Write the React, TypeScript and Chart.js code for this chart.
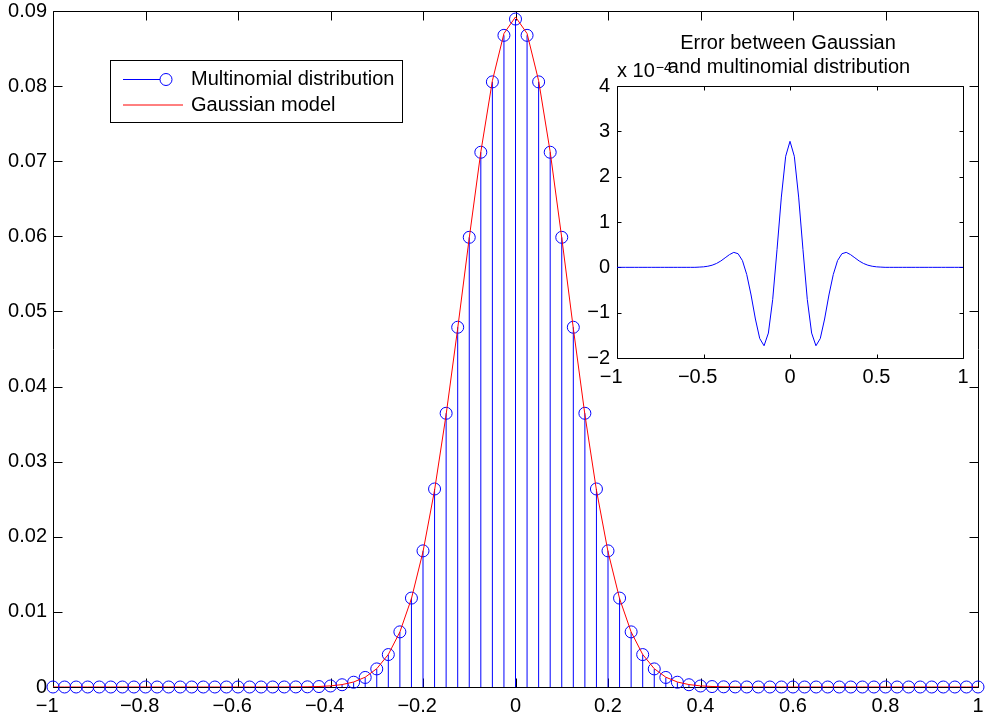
import React, { useEffect, useRef } from 'react';
import { Chart, registerables } from 'chart.js';

Chart.register(...registerables);

const FONT_FAMILY = "'Liberation Sans', Arial, Helvetica, sans-serif";

// x positions of the 81 outcomes
const X_VALUES = [
  -1, -0.975, -0.95, -0.925, -0.9, -0.875, -0.85, -0.825, -0.8, -0.775,
  -0.75, -0.725, -0.7, -0.675, -0.65, -0.625, -0.6, -0.575, -0.55, -0.525,
  -0.5, -0.475, -0.45, -0.425, -0.4, -0.375, -0.35, -0.325, -0.3, -0.275,
  -0.25, -0.225, -0.2, -0.175, -0.15, -0.125, -0.1, -0.075, -0.05, -0.025,
  0,
  0.025, 0.05, 0.075, 0.1, 0.125, 0.15, 0.175, 0.2, 0.225, 0.25,
  0.275, 0.3, 0.325, 0.35, 0.375, 0.4, 0.425, 0.45, 0.475, 0.5,
  0.525, 0.55, 0.575, 0.6, 0.625, 0.65, 0.675, 0.7, 0.725, 0.75,
  0.775, 0.8, 0.825, 0.85, 0.875, 0.9, 0.925, 0.95, 0.975, 1,
];

const MULTINOMIAL = [
  0, 0, 0, 0, 0, 0, 0, 0, 0, 0,
  0, 0, 0, 0, 0, 0, 0, 0, 0,
  0.000001, 0.0000029, 0.0000084, 0.0000224, 0.0000565, 0.0001342, 0.0003006,
  0.0006359, 0.0012718, 0.0024073, 0.0043166, 0.0073383, 0.011836, 0.018124,
  0.026362, 0.036441, 0.047894, 0.059868, 0.071194, 0.080562, 0.086759,
  0.088928,
  0.086759, 0.080562, 0.071194, 0.059868, 0.047894, 0.036441, 0.026362,
  0.018124, 0.011836, 0.0073383, 0.0043166, 0.0024073, 0.0012718, 0.0006359,
  0.0003006, 0.0001342, 0.0000565, 0.0000224, 0.0000084, 0.0000029, 0.000001,
  0, 0, 0, 0, 0, 0, 0, 0, 0,
  0, 0, 0, 0, 0, 0, 0, 0, 0, 0,
];

const GAUSSIAN = [
  0, 0, 0, 0, 0, 0, 0, 0, 0, 0,
  0, 0, 0, 0, 0, 0, 0, 0, 0,
  0.0000015, 0.0000041, 0.0000107, 0.0000271, 0.000065, 0.0001482, 0.0003217,
  0.0006643, 0.0013046, 0.0024374, 0.0043313, 0.0073225, 0.011775, 0.01801,
  0.026205, 0.036268, 0.047749, 0.059797, 0.071233, 0.080717, 0.087004,
  0.089206,
  0.087004, 0.080717, 0.071233, 0.059797, 0.047749, 0.036268, 0.026205,
  0.01801, 0.011775, 0.0073225, 0.0043313, 0.0024374, 0.0013046, 0.0006643,
  0.0003217, 0.0001482, 0.000065, 0.0000271, 0.0000107, 0.0000041, 0.0000015,
  0, 0, 0, 0, 0, 0, 0, 0, 0,
  0, 0, 0, 0, 0, 0, 0, 0, 0, 0,
];

// Gaussian minus multinomial, in units of 1e-4
const ERROR_E4 = [
  0, 0, 0, 0, 0, 0, 0, 0, 0, 0,
  0, 0, 0, 0, 0, 0, 0, 0, 0,
  0.005, 0.011, 0.024, 0.047, 0.085, 0.14, 0.21, 0.28, 0.33, 0.3, 0.15,
  -0.16, -0.61, -1.14, -1.57, -1.73, -1.45, -0.71, 0.39, 1.55, 2.45,
  2.78,
  2.45, 1.55, 0.39, -0.71, -1.45, -1.73, -1.57, -1.14, -0.61, -0.16,
  0.15, 0.3, 0.33, 0.28, 0.21, 0.14, 0.085, 0.047, 0.024, 0.011, 0.005,
  0, 0, 0, 0, 0, 0, 0, 0, 0,
  0, 0, 0, 0, 0, 0, 0, 0, 0, 0,
];

const MAIN_X_TICKS = [-1, -0.8, -0.6, -0.4, -0.2, 0, 0.2, 0.4, 0.6, 0.8, 1];
const MAIN_X_LABELS = ['\u22121', '\u22120.8', '\u22120.6', '\u22120.4', '\u22120.2', '0', '0.2', '0.4', '0.6', '0.8', '1'];
const MAIN_Y_TICKS = [0, 0.01, 0.02, 0.03, 0.04, 0.05, 0.06, 0.07, 0.08, 0.09];
const MAIN_Y_LABELS = ['0', '0.01', '0.02', '0.03', '0.04', '0.05', '0.06', '0.07', '0.08', '0.09'];
const INSET_X_TICKS = [-1, -0.5, 0, 0.5, 1];
const INSET_X_LABELS = ['\u22121', '\u22120.5', '0', '0.5', '1'];
const INSET_Y_TICKS = [-2, -1, 0, 1, 2, 3, 4];
const INSET_Y_LABELS = ['\u22122', '\u22121', '0', '1', '2', '3', '4'];

const LEGEND_LABELS = ['Multinomial distribution', 'Gaussian model'];
const INSET_TITLE = ['Error between Gaussian', 'and multinomial distribution'];
const INSET_EXPONENT = ['x 10', '\u22124'];

const BLUE = '#0000ff';
const RED = '#ff0000';

function zeroPad(s: any, w?: number, h?: number) {
  if (w !== undefined) s.width = w;
  if (h !== undefined) s.height = h;
  s.paddingLeft = 0;
  s.paddingRight = 0;
  s.paddingTop = 0;
  s.paddingBottom = 0;
}

function drawFrame(chart: any, xTicks: number[], yTicks: number[], tickLen: number) {
  const { ctx, chartArea } = chart;
  const xs = chart.scales.x;
  const ys = chart.scales.y;
  const L = Math.round(chartArea.left) + 0.5;
  const R = Math.round(chartArea.right) + 0.5;
  const T = Math.round(chartArea.top) + 0.5;
  const B = Math.round(chartArea.bottom) + 0.5;
  ctx.save();
  ctx.strokeStyle = '#000';
  ctx.lineWidth = 1;
  ctx.beginPath();
  ctx.rect(L, T, R - L, B - T);
  xTicks.forEach((v) => {
    const px = Math.round(xs.getPixelForValue(v)) + 0.5;
    ctx.moveTo(px, B);
    ctx.lineTo(px, B - tickLen);
    ctx.moveTo(px, T);
    ctx.lineTo(px, T + tickLen);
  });
  yTicks.forEach((v) => {
    const py = Math.round(ys.getPixelForValue(v)) + 0.5;
    ctx.moveTo(L, py);
    ctx.lineTo(L + tickLen, py);
    ctx.moveTo(R, py);
    ctx.lineTo(R - tickLen, py);
  });
  ctx.stroke();
  ctx.restore();
}

function drawXLabels(chart: any, values: number[], labels: string[], baseOffset: number) {
  const { ctx, chartArea } = chart;
  const xs = chart.scales.x;
  ctx.save();
  ctx.font = `20px ${FONT_FAMILY}`;
  ctx.fillStyle = '#000';
  ctx.textAlign = 'left';
  ctx.textBaseline = 'alphabetic';
  values.forEach((v, i) => {
    const label = labels[i];
    const px = xs.getPixelForValue(v);
    const full = ctx.measureText(label).width;
    const num = label.startsWith('\u2212') ? ctx.measureText(label.slice(1)).width : full;
    ctx.fillText(label, px - num / 2 - (full - num), chartArea.bottom + baseOffset);
  });
  ctx.restore();
}

function drawLegend(chart: any) {
  const { ctx, chartArea } = chart;
  const bx = chartArea.left + 57;
  const by = chartArea.top + 49;
  ctx.save();
  ctx.fillStyle = '#fff';
  ctx.fillRect(bx, by, 292, 62);
  ctx.strokeStyle = '#000';
  ctx.lineWidth = 1;
  ctx.strokeRect(bx + 0.5, by + 0.5, 292, 62);
  // multinomial sample: line with circle marker
  ctx.strokeStyle = BLUE;
  ctx.beginPath();
  ctx.moveTo(bx + 13, by + 19.5);
  ctx.lineTo(bx + 50, by + 19.5);
  ctx.stroke();
  ctx.beginPath();
  ctx.arc(bx + 56, by + 19.5, 6, 0, Math.PI * 2);
  ctx.stroke();
  // gaussian sample: red line
  ctx.strokeStyle = RED;
  ctx.beginPath();
  ctx.moveTo(bx + 13, by + 45);
  ctx.lineTo(bx + 73, by + 45);
  ctx.stroke();
  ctx.fillStyle = '#000';
  ctx.font = `20px ${FONT_FAMILY}`;
  ctx.textAlign = 'left';
  ctx.textBaseline = 'alphabetic';
  ctx.fillText(LEGEND_LABELS[0], bx + 81, by + 25);
  ctx.fillText(LEGEND_LABELS[1], bx + 81, by + 51);
  ctx.restore();
}

function drawInsetText(chart: any) {
  const { ctx, chartArea } = chart;
  const cx = (chartArea.left + chartArea.right) / 2;
  ctx.save();
  ctx.fillStyle = '#000';
  ctx.font = `20px ${FONT_FAMILY}`;
  ctx.textAlign = 'center';
  ctx.textBaseline = 'alphabetic';
  ctx.fillText(INSET_TITLE[0], cx - 2, chartArea.top - 37);
  ctx.fillText(INSET_TITLE[1], cx - 1, chartArea.top - 13.5);
  ctx.textAlign = 'left';
  ctx.fillText(INSET_EXPONENT[0], chartArea.left, chartArea.top - 9);
  const w = ctx.measureText(INSET_EXPONENT[0]).width;
  ctx.font = `14px ${FONT_FAMILY}`;
  ctx.fillText(INSET_EXPONENT[1], chartArea.left + w + 1, chartArea.top - 14);
  ctx.restore();
}

export default function App() {
  const mainRef = useRef<HTMLCanvasElement | null>(null);
  const insetRef = useRef<HTMLCanvasElement | null>(null);

  useEffect(() => {
    if (!mainRef.current || !insetRef.current) return;

    const mainDecor = {
      id: 'mainDecor',
      beforeDatasetsDraw(chart: any) {
        drawFrame(chart, MAIN_X_TICKS, MAIN_Y_TICKS, 9);
      },
      afterDraw(chart: any) {
        drawXLabels(chart, MAIN_X_TICKS, MAIN_X_LABELS, 25);
        drawLegend(chart);
      },
    };

    const main = new Chart(mainRef.current, {
      type: 'scatter',
      data: {
        datasets: [
          {
            type: 'line',
            label: 'Gaussian model',
            data: X_VALUES.map((x, i) => ({ x, y: GAUSSIAN[i] })),
            borderColor: RED,
            borderWidth: 1,
            pointRadius: 0,
            tension: 0,
            fill: false,
            order: 0,
          } as any,
          {
            type: 'scatter',
            label: 'Multinomial distribution',
            data: X_VALUES.map((x, i) => ({ x, y: MULTINOMIAL[i] })),
            pointRadius: 6,
            pointBorderWidth: 1,
            pointBorderColor: BLUE,
            pointBackgroundColor: 'rgba(0,0,0,0)',
            showLine: false,
            clip: false,
            order: 1,
          } as any,
          {
            type: 'bar',
            label: 'stems',
            data: X_VALUES.map((x, i) => ({ x, y: MULTINOMIAL[i] })),
            backgroundColor: BLUE,
            borderWidth: 0,
            barThickness: 1,
            inflateAmount: 0,
            order: 2,
          } as any,
        ],
      },
      options: {
        responsive: false,
        animation: false,
        events: [],
        layout: { padding: { left: 0, right: 9, top: 11, bottom: 0 } },
        plugins: {
          legend: { display: false },
          tooltip: { enabled: false },
          title: { display: false },
        },
        scales: {
          x: {
            type: 'linear',
            min: -1,
            max: 1,
            offset: false,
            grid: { display: false, offset: false, drawTicks: false },
            border: { display: false },
            ticks: { display: false },
            afterFit: (s: any) => zeroPad(s, undefined, 30),
          },
          y: {
            type: 'linear',
            min: 0,
            max: 0.09,
            grid: { display: false, drawTicks: false },
            border: { display: false },
            ticks: {
              color: '#000',
              font: { family: FONT_FAMILY, size: 20 },
              padding: 6,
              autoSkip: false,
              callback: (_v: any, i: number) => MAIN_Y_LABELS[i],
            },
            afterBuildTicks: (s: any) => {
              s.ticks = MAIN_Y_TICKS.map((v) => ({ value: v }));
            },
            afterFit: (s: any) => zeroPad(s, 53, undefined),
          },
        },
      } as any,
      plugins: [mainDecor],
    });

    const insetDecor = {
      id: 'insetDecor',
      beforeDatasetsDraw(chart: any) {
        drawFrame(chart, INSET_X_TICKS, INSET_Y_TICKS, 4);
      },
      afterDraw(chart: any) {
        drawXLabels(chart, INSET_X_TICKS, INSET_X_LABELS, 25);
        drawInsetText(chart);
      },
    };

    const inset = new Chart(insetRef.current, {
      type: 'line',
      data: {
        datasets: [
          {
            label: 'Error',
            data: X_VALUES.map((x, i) => ({ x, y: ERROR_E4[i] })),
            borderColor: BLUE,
            borderWidth: 1,
            pointRadius: 0,
            tension: 0,
            fill: false,
          },
        ],
      },
      options: {
        responsive: false,
        animation: false,
        events: [],
        layout: { padding: { left: 0, right: 17, top: 66, bottom: 0 } },
        plugins: {
          legend: { display: false },
          tooltip: { enabled: false },
          title: { display: false },
        },
        scales: {
          x: {
            type: 'linear',
            min: -1,
            max: 1,
            offset: false,
            grid: { display: false, drawTicks: false },
            border: { display: false },
            ticks: { display: false },
            afterFit: (s: any) => zeroPad(s, undefined, 42),
          },
          y: {
            type: 'linear',
            min: -2,
            max: 4,
            grid: { display: false, drawTicks: false },
            border: { display: false },
            ticks: {
              color: '#000',
              font: { family: FONT_FAMILY, size: 20 },
              padding: 7,
              autoSkip: false,
              callback: (_v: any, i: number) => INSET_Y_LABELS[i],
            },
            afterBuildTicks: (s: any) => {
              s.ticks = INSET_Y_TICKS.map((v) => ({ value: v }));
            },
            afterFit: (s: any) => zeroPad(s, 57, undefined),
          },
        },
      } as any,
      plugins: [insetDecor],
    });

    return () => {
      main.destroy();
      inset.destroy();
    };
  }, []);

  return (
    <div style={{ position: 'absolute', left: 0, top: 0, width: 987, height: 717, background: '#fff', overflow: 'hidden' }}>
      <canvas ref={mainRef} width={987} height={717} style={{ position: 'absolute', left: 0, top: 0, width: 987, height: 717 }} />
      <canvas ref={insetRef} width={420} height={380} style={{ position: 'absolute', left: 560, top: 20, width: 420, height: 380 }} />
    </div>
  );
}
